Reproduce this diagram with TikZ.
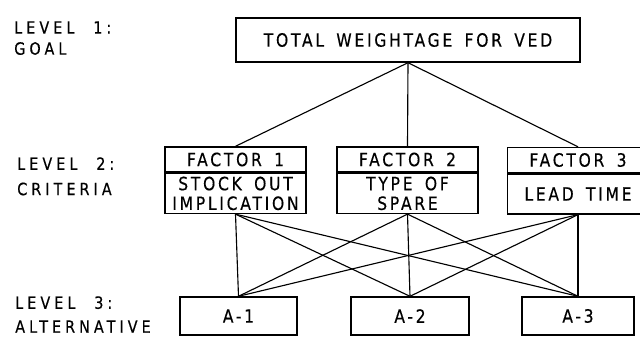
\documentclass[tikz,border=0pt]{standalone}
\usepackage{fontspec}
\setmainfont{DejaVu Sans}
\newfontfamily\boxletters{DejaVu Sans}[FakeStretch=0.85, FakeBold=0.4, LetterSpace=15, WordSpace=1.6]
\newfontfamily\levelletters{DejaVu Sans}[FakeStretch=0.85, FakeBold=0.4, LetterSpace=24, WordSpace=2.2]
\usetikzlibrary{positioning}

\begin{document}
\begin{tikzpicture}[
    x=0.025cm, y=-0.025cm,
    box/.style={draw, line width=1pt, inner sep=0pt, align=center,
        font=\boxletters\fontsize{13}{13}\selectfont},
    goal/.style={box, minimum width=8.6cm, minimum height=1.1cm},
    head/.style={box, minimum width=3.525cm, minimum height=0.625cm},
    crit/.style={box, minimum width=3.525cm, minimum height=1cm},
    alt/.style={box, minimum height=0.95cm},
    level/.style={anchor=north west, align=left, inner sep=0pt,
        font=\levelletters\fontsize{12}{13}\selectfont},
    link/.style={line width=0.8pt},
]
\useasboundingbox (0,0) rectangle (640,338);

% Level names
\node[level] (lv1) at (14,21) {LEVEL 1:\\[2pt]GOAL};
\node[level] (lv2) at (17,157) {LEVEL 2:\\[5pt]CRITERIA};
\node[level] (lv3) at (15,296) {LEVEL 3:\\[4pt]ALTERNATIVE};

% Goal
\node[goal] (goal) at (408,40) {TOTAL WEIGHTAGE FOR VED};

% Criteria (header on top of body)
\node[head] (h1) at (235.5,159.5) {FACTOR 1};
\node[crit, below=0pt of h1] (c1) {STOCK OUT\\[1pt]IMPLICATION};
\node[head] (h2) at (407.5,159.5) {FACTOR 2};
\node[crit, below=0pt of h2] (c2) {TYPE OF\\[1pt]SPARE};
\node[head] (h3) at (578,160) {FACTOR 3};
\node[crit, below=0pt of h3] (c3) {LEAD TIME};

% Alternatives
\node[alt, minimum width=2.925cm] (a1) at (238.5,316) {A-1};
\node[alt, minimum width=2.95cm] (a2) at (410,316) {A-2};
\node[alt, minimum width=2.8cm] (a3) at (578,316) {A-3};

% Connections
\foreach \c in {h1,h2,h3}
    \draw[link] (goal.south) -- (\c.north);
\foreach \c in {c1,c2,c3}
    \foreach \a in {a1,a2,a3}
        \draw[link] (\c.south) -- (\a.north);

\end{tikzpicture}
\end{document}
